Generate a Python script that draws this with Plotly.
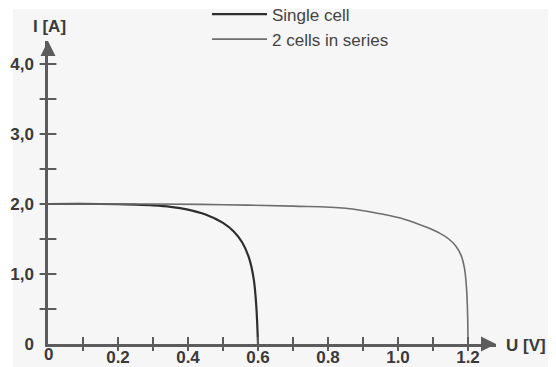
import plotly.graph_objects as go

# ---- data (axis units) ----
u_single = [0.0, 0.15, 0.25, 0.30, 0.35, 0.40, 0.45, 0.50, 0.53, 0.555, 0.575, 0.588, 0.595, 0.600]
i_single = [2.0, 2.0, 1.99, 1.98, 1.96, 1.92, 1.85, 1.73, 1.61, 1.45, 1.22, 0.92, 0.55, 0.0]

u_series = [0.0, 0.30, 0.50, 0.70, 0.85, 0.95, 1.02, 1.08, 1.12, 1.145, 1.165, 1.18, 1.19, 1.196, 1.199, 1.200]
i_series = [2.0, 2.0, 1.99, 1.97, 1.94, 1.86, 1.78, 1.67, 1.58, 1.50, 1.40, 1.27, 1.08, 0.78, 0.40, 0.0]

x_tick_marks = [0.1, 0.2, 0.3, 0.4, 0.5, 0.6, 0.7, 0.8, 0.9, 1.0, 1.1, 1.2]
x_tick_labels_vals = [0.2, 0.4, 0.6, 0.8, 1.0, 1.2]
x_tick_labels = ["0.2", "0.4", "0.6", "0.8", "1.0", "1.2"]
y_tick_marks = [0.5, 1.0, 1.5, 2.0, 2.5, 3.0, 3.5, 4.0]
y_tick_labels_vals = [0, 1, 2, 3, 4]
y_tick_labels = ["0", "1,0", "2,0", "3,0", "4,0"]

series_names = ["Single cell", "2 cells in series"]

AX = "#5c5c5c"
TXT = "#3a3a3a"
FONT = "Arial, Liberation Sans, Helvetica, sans-serif"

W, H = 556, 367
L, R, T, B = 48, 60, 41, 23
XMAX = (W - L - R) / 350.0
YMAX = (H - T - B) / 70.0

fig = go.Figure()

fig.add_trace(go.Scatter(
    x=u_single, y=i_single, mode="lines", name=series_names[0],
    line=dict(color="#2e2e2e", width=2.2, shape="spline", smoothing=1.0),
    hoverinfo="skip"))
fig.add_trace(go.Scatter(
    x=u_series, y=i_series, mode="lines", name=series_names[1],
    line=dict(color="#6e6e6e", width=1.6, shape="spline", smoothing=1.0),
    hoverinfo="skip"))

# tick marks crossing the axes
fig.add_trace(go.Scatter(
    x=x_tick_marks, y=[0] * len(x_tick_marks), mode="markers", showlegend=False,
    marker=dict(symbol="line-ns", size=10, line=dict(width=2, color=AX)),
    cliponaxis=False, hoverinfo="skip"))
fig.add_trace(go.Scatter(
    x=[0] * len(y_tick_marks), y=y_tick_marks, mode="markers", showlegend=False,
    marker=dict(symbol="line-ew", size=12, line=dict(width=2, color=AX)),
    cliponaxis=False, hoverinfo="skip"))

tickfont = dict(family=FONT, size=17, color=TXT, weight="bold")

fig.update_xaxes(
    range=[0, XMAX], showgrid=False, zeroline=False, showline=True, automargin=False,
    linecolor=AX, linewidth=2.5, ticks="", ticklen=0, tickvals=x_tick_labels_vals,
    ticktext=x_tick_labels, tickfont=tickfont, ticklabelstandoff=-4)
fig.update_yaxes(
    range=[0, YMAX], showgrid=False, zeroline=False, showline=True, automargin=False,
    linecolor=AX, linewidth=2.5, ticks="", ticklen=0, tickvals=y_tick_labels_vals,
    ticktext=y_tick_labels, tickfont=tickfont, ticklabelstandoff=8)

annots = [
    # arrowheads
    dict(x=XMAX, y=0, xref="x", yref="y", ax=-14, ay=0, text="", showarrow=True,
         arrowhead=2, arrowsize=1.2, arrowwidth=2.5, arrowcolor=AX),
    dict(x=0, y=YMAX, xref="x", yref="y", ax=0, ay=14, text="", showarrow=True,
         arrowhead=2, arrowsize=1.2, arrowwidth=2.5, arrowcolor=AX),
    dict(x=XMAX, y=0, xref="x", yref="y", text="U [V]", showarrow=False,
         xanchor="left", yanchor="middle", xshift=8, yshift=-1,
         font=dict(family=FONT, size=17, color=TXT, weight="bold")),
    dict(x=0, y=YMAX, xref="x", yref="y", text="I [A]", showarrow=False,
         xanchor="center", yanchor="bottom", xshift=1, yshift=3,
         font=dict(family=FONT, size=17, color=TXT, weight="bold")),
    dict(x=0, y=0, xref="x", yref="y", text="0", showarrow=False,
         xanchor="center", yanchor="top", yshift=1,
         font=dict(family=FONT, size=17, color=TXT, weight="bold")),
]

pw, ph = W - L - R, H - T - B
fig.add_shape(type="rect", xref="paper", yref="paper",
              x0=(13 - L) / pw, x1=(548 - L) / pw,
              y0=(H - B - 367) / ph, y1=(H - B - 9) / ph,
              fillcolor="#f6f6f6", line=dict(width=0), layer="below")

fig.update_layout(
    width=W, height=H, autosize=False,
    margin=dict(l=L, r=R, t=T, b=B, autoexpand=False),
    paper_bgcolor="white", plot_bgcolor="rgba(0,0,0,0)",
    annotations=annots,
    showlegend=True,
    legend=dict(x=(207 - L) / pw, y=(H - B + 3.5) / ph, xanchor="left", yanchor="top",
                bgcolor="rgba(0,0,0,0)", font=dict(family=FONT, size=17, color="#444"),
                itemwidth=55, tracegroupgap=0),
)

fig.write_html("out.html")
